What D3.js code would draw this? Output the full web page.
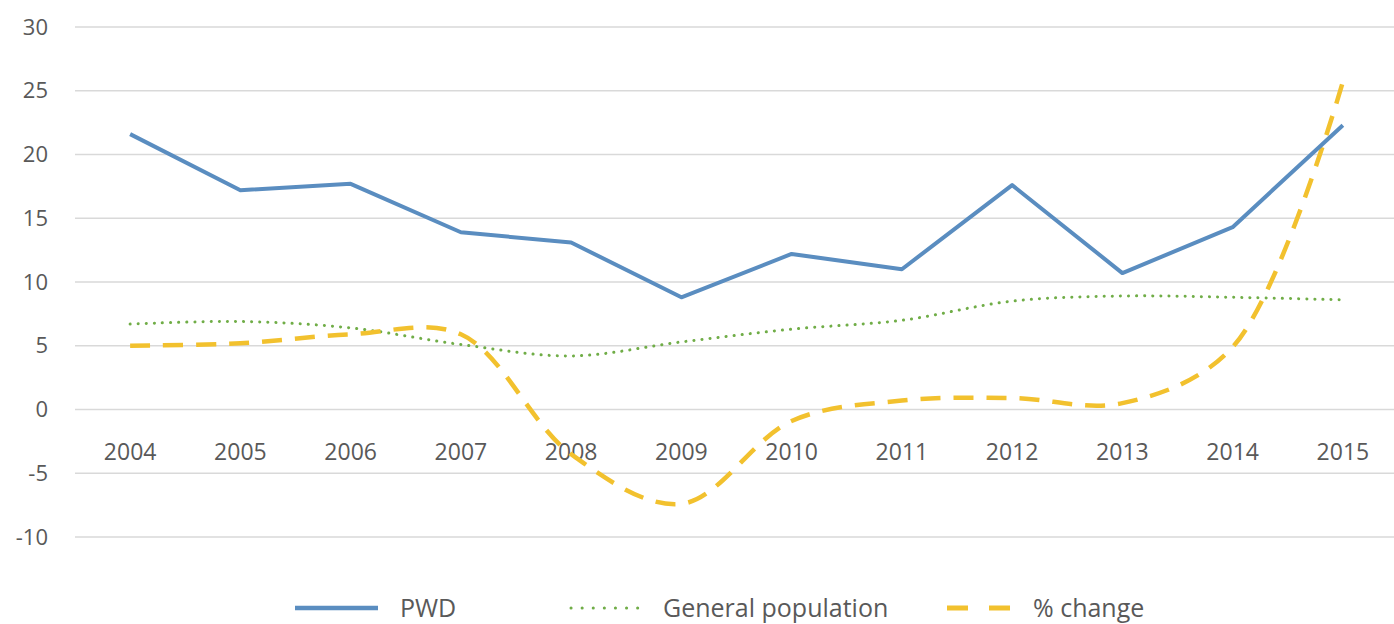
<!DOCTYPE html>
<html>
<head>
<meta charset="utf-8">
<script src="https://cdn.jsdelivr.net/npm/d3@7"></script>
<style>
  body { margin: 0; background: #fff; }
  text { font-family: "Open Sans", "Noto Sans", sans-serif; fill: #595959; }
</style>
</head>
<body>
<div id="chart"></div>
<script>
// data
var years = ["2004", "2005", "2006", "2007", "2008", "2009", "2010", "2011", "2012", "2013", "2014", "2015"];
var pwd = [21.6, 17.2, 17.7, 13.9, 13.1, 8.8, 12.2, 11.0, 17.6, 10.7, 14.3, 22.3];
var generalPop = [6.7, 6.9, 6.4, 5.1, 4.2, 5.3, 6.3, 7.0, 8.5, 8.9, 8.8, 8.6];
var pctChange = [5.0, 5.2, 5.9, 5.9, -3.5, -7.4, -0.9, 0.7, 0.9, 0.5, 4.9, 25.7];
var yTicks = [-10, -5, 0, 5, 10, 15, 20, 25, 30];
var legendNames = ["PWD", "General population", "% change"];

var W = 1394, H = 624;
var margin = {top: 27, right: 0, bottom: 87, left: 75};

var svg = d3.select("#chart").append("svg")
  .attr("width", W)
  .attr("height", H);

var x = d3.scaleBand()
  .domain(years)
  .range([margin.left, W - margin.right + 4]);

var y = d3.scaleLinear()
  .domain([-10, 30])
  .range([H - margin.bottom, margin.top]);

// gridlines
svg.append("g")
  .selectAll("line")
  .data(yTicks)
  .enter().append("line")
  .attr("x1", margin.left)
  .attr("x2", W)
  .attr("y1", function(d) { return y(d); })
  .attr("y2", function(d) { return y(d); })
  .attr("stroke", "#d9d9d9")
  .attr("stroke-width", 1.5);

// y axis labels (plain hyphen for negatives)
var yAxis = svg.append("g")
  .attr("transform", "translate(" + (margin.left - 27) + ",0)")
  .call(d3.axisLeft(y).tickValues(yTicks).tickSize(0).tickPadding(0)
    .tickFormat(function(d) { return String(d); }));
yAxis.select(".domain").remove();
yAxis.selectAll("text")
  .style("font-size", "22px")
  .style("font-family", "'Open Sans', sans-serif")
  .attr("fill", "#595959");

// x axis labels sit under the zero line
var xAxis = svg.append("g")
  .attr("transform", "translate(0," + y(0) + ")")
  .call(d3.axisBottom(x).tickSize(0).tickPadding(34));
xAxis.select(".domain").remove();
xAxis.selectAll("text")
  .style("font-size", "23px")
  .style("font-family", "'Open Sans', sans-serif")
  .attr("fill", "#595959");

function px(d, i) { return x(years[i]) + x.bandwidth() / 2; }

var straight = d3.line().x(px).y(function(d) { return y(d); });
var smooth = d3.line().x(px).y(function(d) { return y(d); }).curve(d3.curveCatmullRom.alpha(0.5));

svg.append("path")
  .datum(generalPop)
  .attr("d", smooth)
  .attr("fill", "none")
  .attr("stroke", "#70ad47")
  .attr("stroke-width", 3)
  .attr("stroke-linecap", "round")
  .attr("stroke-dasharray", "0.1 8");

svg.append("path")
  .datum(pctChange)
  .attr("d", smooth)
  .attr("fill", "none")
  .attr("stroke", "#f2c12e")
  .attr("stroke-width", 4.5)
  .attr("stroke-dasharray", "20 13");

svg.append("path")
  .datum(pwd)
  .attr("d", straight)
  .attr("fill", "none")
  .attr("stroke", "#5a8dc0")
  .attr("stroke-width", 4)
  .attr("stroke-linejoin", "round");

// legend
var legendY = 608;
var legendItems = [
  {x: 295, w: 83, tx: 400, color: "#5a8dc0", dash: null, width: 4.5, cap: "butt"},
  {x: 571, w: 77, tx: 663, color: "#70ad47", dash: "0.1 11", width: 3, cap: "round"},
  {x: 947, w: 63, tx: 1033, color: "#f2c12e", dash: "21 21", width: 5, cap: "butt"}
];
var legend = svg.append("g")
  .selectAll("g")
  .data(legendNames)
  .enter().append("g");

legend.append("line")
  .attr("x1", function(d, i) { return legendItems[i].x; })
  .attr("x2", function(d, i) { return legendItems[i].x + legendItems[i].w; })
  .attr("y1", legendY)
  .attr("y2", legendY)
  .attr("stroke", function(d, i) { return legendItems[i].color; })
  .attr("stroke-width", function(d, i) { return legendItems[i].width; })
  .attr("stroke-linecap", function(d, i) { return legendItems[i].cap; })
  .attr("stroke-dasharray", function(d, i) { return legendItems[i].dash; });

legend.append("text")
  .attr("x", function(d, i) { return legendItems[i].tx; })
  .attr("y", legendY)
  .attr("dy", "0.35em")
  .style("font-size", "25px")
  .attr("fill", "#404040")
  .text(function(d) { return d; });
</script>
</body>
</html>
